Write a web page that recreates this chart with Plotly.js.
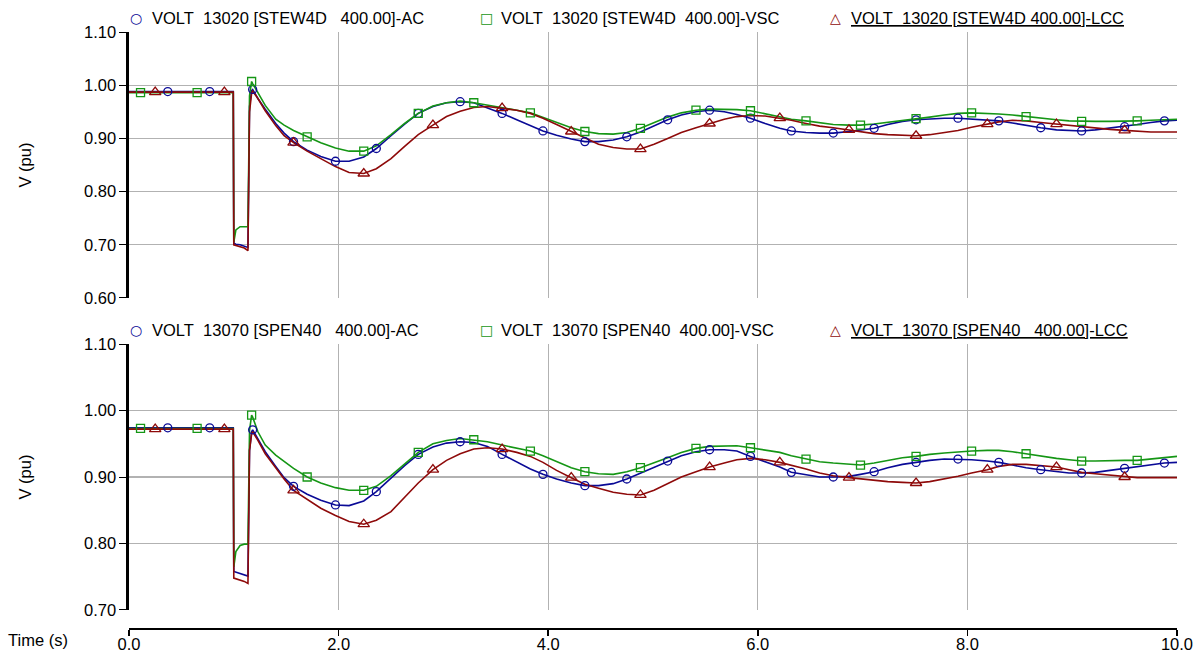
<!DOCTYPE html>
<html>
<head>
<meta charset="utf-8">
<script src="https://cdn.plot.ly/plotly-3.0.1.min.js"></script>
<style>html,body{margin:0;padding:0;background:#fff}#chart{width:1201px;height:655px}</style>
</head>
<body>
<div id="chart"></div>
<script>
// ---------------- DATA ----------------
const time = [0, 0.11, 0.25, 0.37, 0.65, 0.77, 0.91, 0.995,
  1.0, 1.02, 1.06, 1.10, 1.135, 1.15, 1.17, 1.18, 1.23, 1.30, 1.40, 1.48,
  1.57, 1.70, 1.83, 1.97, 2.10, 2.24, 2.36, 2.50, 2.63, 2.76,
  2.90, 3.03, 3.16, 3.29, 3.42, 3.56, 3.70, 3.83, 3.95, 4.08,
  4.22, 4.35, 4.48, 4.62, 4.75, 4.88, 5.01, 5.14, 5.27, 5.41,
  5.54, 5.68, 5.80, 5.93, 6.07, 6.21, 6.32, 6.46, 6.59, 6.72,
  6.87, 6.98, 7.11, 7.24, 7.38, 7.51, 7.64, 7.78, 7.91, 8.04,
  8.19, 8.30, 8.43, 8.56, 8.70, 8.85, 8.97, 9.09, 9.22, 9.36,
  9.50, 9.62, 9.75, 9.88, 10.0];

// Top panel: bus 13020 STEW4D
const stewAC = [0.988, 0.988, 0.988, 0.988, 0.988, 0.988, 0.988, 0.988,
  0.703, 0.701, 0.700, 0.698, 0.695, 0.960, 0.990, 0.992, 0.975, 0.955, 0.928, 0.910,
  0.894, 0.878, 0.866, 0.857, 0.857, 0.865, 0.881, 0.905, 0.927, 0.947,
  0.960, 0.967, 0.969, 0.967, 0.958, 0.947, 0.935, 0.924, 0.914, 0.906,
  0.899, 0.894, 0.894, 0.897, 0.903, 0.912, 0.924, 0.935, 0.944, 0.950,
  0.953, 0.950, 0.945, 0.938, 0.928, 0.919, 0.914, 0.911, 0.910, 0.910,
  0.913, 0.916, 0.919, 0.926, 0.932, 0.935, 0.937, 0.938, 0.938, 0.936,
  0.934, 0.933, 0.929, 0.924, 0.920, 0.916, 0.915, 0.914, 0.916, 0.919,
  0.922, 0.926, 0.930, 0.933, 0.934];
const stewVSC = [0.986, 0.986, 0.986, 0.986, 0.986, 0.986, 0.986, 0.986,
  0.705, 0.728, 0.734, 0.734, 0.734, 0.980, 1.007, 1.003, 0.985, 0.962, 0.936, 0.925,
  0.915, 0.903, 0.892, 0.882, 0.876, 0.876, 0.886, 0.907, 0.928, 0.947,
  0.961, 0.967, 0.970, 0.967, 0.963, 0.958, 0.953, 0.948, 0.939, 0.929,
  0.920, 0.913, 0.909, 0.908, 0.911, 0.919, 0.930, 0.940, 0.948, 0.953,
  0.955, 0.955, 0.954, 0.952, 0.946, 0.940, 0.936, 0.933, 0.929, 0.926,
  0.925, 0.925, 0.927, 0.930, 0.934, 0.937, 0.940, 0.944, 0.947, 0.948,
  0.947, 0.946, 0.944, 0.941, 0.938, 0.935, 0.933, 0.932, 0.932, 0.932,
  0.932, 0.933, 0.934, 0.935, 0.936];
const stewLCC = [0.987, 0.987, 0.987, 0.987, 0.987, 0.987, 0.987, 0.987,
  0.700, 0.699, 0.697, 0.694, 0.689, 0.950, 0.985, 0.989, 0.975, 0.952, 0.924, 0.905,
  0.892, 0.876, 0.862, 0.847, 0.836, 0.834, 0.843, 0.862, 0.885, 0.907,
  0.925, 0.941, 0.951, 0.958, 0.960, 0.957, 0.953, 0.947, 0.938, 0.926,
  0.913, 0.900, 0.889, 0.883, 0.880, 0.880, 0.889, 0.900, 0.911, 0.920,
  0.928, 0.936, 0.941, 0.943, 0.942, 0.938, 0.934, 0.928, 0.923, 0.920,
  0.916, 0.912, 0.909, 0.907, 0.906, 0.905, 0.907, 0.911, 0.915, 0.921,
  0.927, 0.931, 0.934, 0.933, 0.930, 0.927, 0.924, 0.921, 0.919, 0.917,
  0.915, 0.913, 0.912, 0.912, 0.912];

// Bottom panel: bus 13070 SPEN40
const spenAC = [0.974, 0.974, 0.974, 0.974, 0.974, 0.974, 0.974, 0.974,
  0.758, 0.757, 0.755, 0.753, 0.751, 0.940, 0.968, 0.971, 0.957, 0.938, 0.916, 0.899,
  0.886, 0.874, 0.865, 0.858, 0.857, 0.864, 0.878, 0.898, 0.917, 0.934,
  0.945, 0.951, 0.953, 0.952, 0.946, 0.934, 0.922, 0.912, 0.904, 0.897,
  0.891, 0.887, 0.887, 0.890, 0.897, 0.906, 0.915, 0.924, 0.932, 0.938,
  0.941, 0.941, 0.939, 0.931, 0.923, 0.915, 0.907, 0.903, 0.900, 0.900,
  0.901, 0.904, 0.908, 0.914, 0.919, 0.922, 0.925, 0.927, 0.927, 0.926,
  0.924, 0.922, 0.918, 0.914, 0.911, 0.908, 0.906, 0.906, 0.907, 0.910,
  0.913, 0.916, 0.919, 0.921, 0.922];
const spenVSC = [0.973, 0.973, 0.973, 0.973, 0.973, 0.973, 0.973, 0.973,
  0.765, 0.788, 0.797, 0.799, 0.799, 0.970, 0.993, 0.990, 0.968, 0.948, 0.933, 0.923,
  0.913, 0.900, 0.891, 0.884, 0.880, 0.880, 0.886, 0.902, 0.920, 0.937,
  0.950, 0.955, 0.958, 0.956, 0.953, 0.948, 0.943, 0.939, 0.932, 0.923,
  0.914, 0.908, 0.905, 0.904, 0.908, 0.914, 0.921, 0.929, 0.937, 0.943,
  0.946, 0.947, 0.947, 0.944, 0.941, 0.937, 0.932, 0.927, 0.923, 0.921,
  0.919, 0.918, 0.921, 0.925, 0.929, 0.931, 0.934, 0.936, 0.938, 0.939,
  0.940, 0.940, 0.938, 0.935, 0.931, 0.928, 0.926, 0.924, 0.924, 0.925,
  0.925, 0.925, 0.927, 0.929, 0.931];
const spenLCC = [0.972, 0.972, 0.972, 0.972, 0.972, 0.972, 0.972, 0.972,
  0.748, 0.747, 0.745, 0.743, 0.740, 0.940, 0.965, 0.968, 0.955, 0.935, 0.914, 0.897,
  0.880, 0.866, 0.853, 0.842, 0.833, 0.829, 0.835, 0.848, 0.870, 0.891,
  0.911, 0.925, 0.935, 0.942, 0.944, 0.942, 0.937, 0.931, 0.922, 0.910,
  0.899, 0.889, 0.883, 0.877, 0.874, 0.873, 0.880, 0.890, 0.900, 0.908,
  0.915, 0.921, 0.926, 0.928, 0.926, 0.922, 0.918, 0.912, 0.906, 0.902,
  0.899, 0.897, 0.895, 0.893, 0.892, 0.891, 0.893, 0.897, 0.901, 0.906,
  0.911, 0.916, 0.919, 0.919, 0.917, 0.915, 0.911, 0.907, 0.905, 0.903,
  0.900, 0.899, 0.899, 0.899, 0.899];

// Times at which the plotting program drew a marker symbol
const markTimesAC  = [0.37, 0.77, 1.18, 1.57, 1.97, 2.36, 2.76, 3.16, 3.56, 3.95, 4.35, 4.75, 5.14, 5.54, 5.93, 6.32, 6.72, 7.11, 7.51, 7.91, 8.30, 8.70, 9.09, 9.50, 9.88];
const markTimesVSC = [0.11, 0.65, 1.17, 1.70, 2.24, 2.76, 3.29, 3.83, 4.35, 4.88, 5.41, 5.93, 6.46, 6.98, 7.51, 8.04, 8.56, 9.09, 9.62];
const markTimesLCC = [0.25, 0.91, 1.57, 2.24, 2.90, 3.56, 4.22, 4.88, 5.54, 6.21, 6.87, 7.51, 8.19, 8.85, 9.50];

const labelsTop = ['VOLT\u00a0\u00a013020 [STEW4D\u00a0\u00a0\u00a0400.00]-AC',
                   'VOLT\u00a0\u00a013020 [STEW4D\u00a0\u00a0400.00]-VSC',
                   'VOLT\u00a0\u00a013020 [STEW4D\u00a0400.00]-LCC'];
const labelsBottom = ['VOLT\u00a0\u00a013070 [SPEN40\u00a0\u00a0\u00a0400.00]-AC',
                      'VOLT\u00a0\u00a013070 [SPEN40\u00a0\u00a0400.00]-VSC',
                      'VOLT\u00a0\u00a013070 [SPEN40\u00a0\u00a0\u00a0400.00]-LCC'];

const yTicksTop = [0.6, 0.7, 0.8, 0.9, 1.0, 1.1];
const yTicksBottom = [0.7, 0.8, 0.9, 1.0, 1.1];
const xTicks = [0, 2, 4, 6, 8, 10];
const xTickText = ['0.0', '2.0', '4.0', '6.0', '8.0', '10.0'];
const yTickTextTop = ['0.60', '0.70', '0.80', '0.90', '1.00', '1.10'];
const yTickTextBottom = ['0.70', '0.80', '0.90', '1.00', '1.10'];

// ---------------- STYLE ----------------
const C_AC = '#0a0a96', C_VSC = '#159615', C_LCC = '#8e0a0a';
const GRID = '#b2b2b2';
const FONT = 'Liberation Sans, Arial, sans-serif';

function lineTrace(y, color, xa, ya) {
  return {type: 'scatter', mode: 'lines', x: time, y: y, xaxis: xa, yaxis: ya,
    line: {color: color, width: 1.6}, hoverinfo: 'skip', showlegend: false};
}
function markerTrace(y, marks, symbol, size, color, xa, ya) {
  const xs = [], ys = [];
  time.forEach((t, i) => { if (marks.some(m => Math.abs(m - t) < 1e-6)) { xs.push(t); ys.push(y[i]); } });
  return {type: 'scatter', mode: 'markers', x: xs, y: ys, xaxis: xa, yaxis: ya,
    marker: {symbol: symbol, size: size, color: color, line: {color: color, width: 1.3}},
    hoverinfo: 'skip', showlegend: false};
}

const traces = [
  lineTrace(stewAC, C_AC, 'x', 'y'),
  lineTrace(stewVSC, C_VSC, 'x', 'y'),
  lineTrace(stewLCC, C_LCC, 'x', 'y'),
  markerTrace(stewAC, markTimesAC, 'circle-open', 8, C_AC, 'x', 'y'),
  markerTrace(stewVSC, markTimesVSC, 'square-open', 8, C_VSC, 'x', 'y'),
  markerTrace(stewLCC, markTimesLCC, 'triangle-up-open', 10, C_LCC, 'x', 'y'),
  lineTrace(spenAC, C_AC, 'x2', 'y2'),
  lineTrace(spenVSC, C_VSC, 'x2', 'y2'),
  lineTrace(spenLCC, C_LCC, 'x2', 'y2'),
  markerTrace(spenAC, markTimesAC, 'circle-open', 8, C_AC, 'x2', 'y2'),
  markerTrace(spenVSC, markTimesVSC, 'square-open', 8, C_VSC, 'x2', 'y2'),
  markerTrace(spenLCC, markTimesLCC, 'triangle-up-open', 10, C_LCC, 'x2', 'y2'),
  {type: 'scatter', mode: 'lines', x: [], y: [], xaxis: 'x3', yaxis: 'y3', hoverinfo: 'skip', showlegend: false}
];

const panelX = (anchor) => ({
  anchor: anchor, domain: [0, 1], range: [0, 10], tickmode: 'array', tickvals: xTicks,
  showticklabels: false, ticks: '', showgrid: true, gridcolor: GRID, gridwidth: 1.3,
  zeroline: false, showline: false
});
const panelY = (anchor, domain, range, vals, text) => ({
  anchor: anchor, domain: domain, range: range, tickmode: 'array', tickvals: vals, ticktext: text,
  ticks: 'outside', ticklen: 7, tickwidth: 1, tickcolor: '#000',
  showline: true, linecolor: '#000', linewidth: 2.6,
  showgrid: true, gridcolor: GRID, gridwidth: 1.3, zeroline: false,
  tickfont: {family: FONT, size: 16.5, color: '#000'},
  title: {text: 'V (pu)', standoff: 48, font: {family: FONT, size: 16.5, color: '#000'}}
});

// legend rows drawn as annotations
const symbols = ['\u25CB', '\u25A1', '\u25B3'];
const symColors = [C_AC, C_VSC, C_LCC];
const symX = [0.0067, 0.3416, 0.6746];
const txtX = [0.0204, 0.3534, 0.6870];
function legendRow(labels, yPaper) {
  const out = [];
  for (let i = 0; i < 3; i++) {
    out.push({xref: 'paper', yref: 'paper', x: symX[i], y: yPaper, xanchor: 'center', yanchor: 'middle',
      text: symbols[i], showarrow: false, font: {family: 'DejaVu Sans', size: 14, color: symColors[i]}});
    out.push({xref: 'paper', yref: 'paper', x: txtX[i], y: yPaper, xanchor: 'left', yanchor: 'middle',
      text: i === 2 ? '<u>' + labels[i] + '</u>' : labels[i], showarrow: false,
      font: {family: FONT, size: 16.5, color: '#000'}});
  }
  return out;
}

const layout = {
  width: 1201, height: 655,
  margin: {l: 129, r: 24, t: 32, b: 27},
  paper_bgcolor: '#ffffff', plot_bgcolor: '#ffffff',
  showlegend: false,
  font: {family: FONT, size: 16.5, color: '#000'},
  xaxis: panelX('y'),
  yaxis: panelY('x', [0.5537, 1], [0.6, 1.1], yTicksTop, yTickTextTop),
  xaxis2: panelX('y2'),
  yaxis2: panelY('x2', [0.0302, 0.4765], [0.7, 1.1], yTicksBottom, yTickTextBottom),
  xaxis3: {anchor: 'y3', domain: [0, 1], range: [0, 10], tickmode: 'array', tickvals: xTicks, ticktext: xTickText,
    ticks: 'outside', ticklen: 6, tickwidth: 1.5, tickcolor: '#000', ticklabelstandoff: -6,
    showline: true, linecolor: '#000', linewidth: 2, showgrid: false, zeroline: false,
    tickfont: {family: FONT, size: 16.5, color: '#000'}},
  yaxis3: {anchor: 'x3', domain: [0, 0.004], range: [0, 1], visible: false},
  annotations: [
    ...legendRow(labelsTop, 1.0235),
    ...legendRow(labelsBottom, 0.5),
    {xref: 'paper', yref: 'paper', x: -0.0868, y: -0.020, xanchor: 'center', yanchor: 'middle',
     text: 'Time (s)', showarrow: false, font: {family: FONT, size: 16.5, color: '#000'}}
  ]
};

Plotly.newPlot('chart', traces, layout, {staticPlot: true, displayModeBar: false});
</script>
</body>
</html>
